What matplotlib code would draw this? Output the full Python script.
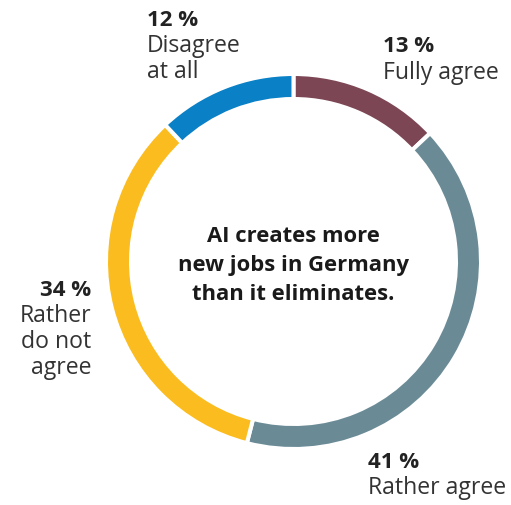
import matplotlib.pyplot as plt

# Survey: "AI creates more new jobs in Germany than it eliminates."
categories = ["Fully agree", "Rather agree", "Rather do not agree", "Disagree at all"]
shares = [13, 41, 34, 12]
colors = ["#7d4655", "#6a8b96", "#fbbc1f", "#0a80c6"]
label_lines = [["Fully agree"], ["Rather agree"], ["Rather", "do not", "agree"], ["Disagree", "at all"]]
center_title = "AI creates more\nnew jobs in Germany\nthan it eliminates."

plt.rcParams["font.family"] = ["Open Sans", "DejaVu Sans"]

W, H = 511, 505
fig = plt.figure(figsize=(W / 100, H / 100), dpi=100)
ax = fig.add_axes([0, 0, 1, 1])

# work in pixel-like coordinates, y measured from the top
cx, cy = 293.5, H - 261.5
ring_r = 187.5
ring_w = 25

ax.pie(
    shares,
    colors=colors,
    startangle=90,
    counterclock=False,
    radius=ring_r,
    center=(cx, cy),
    frame=True,
    wedgeprops=dict(width=ring_w, edgecolor="white", linewidth=2.9),
)
ax.set_xlim(0, W)
ax.set_ylim(0, H)
ax.set_aspect("equal")
ax.axis("off")

ax.text(cx, H - 265, center_title, ha="center", va="center", fontsize=15.8,
        fontweight="bold", color="#1a1a1a", linespacing=1.5)

# (x, y of first line, alignment) for each category label block
label_pos = [(383, 47, "left"), (368, 462, "left"), (91, 290, "right"), (147, 20, "left")]
line_gap = 26

for share, lines, (x, y, ha) in zip(shares, label_lines, label_pos):
    ax.text(x, H - y, f"{share} %", ha=ha, va="center", fontsize=16,
            fontweight="bold", color="#222222")
    for i, line in enumerate(lines):
        ax.text(x, H - (y + line_gap * (i + 1)), line, ha=ha, va="center",
                fontsize=16.6, color="#333333")

fig.savefig("out.png", dpi=100)
